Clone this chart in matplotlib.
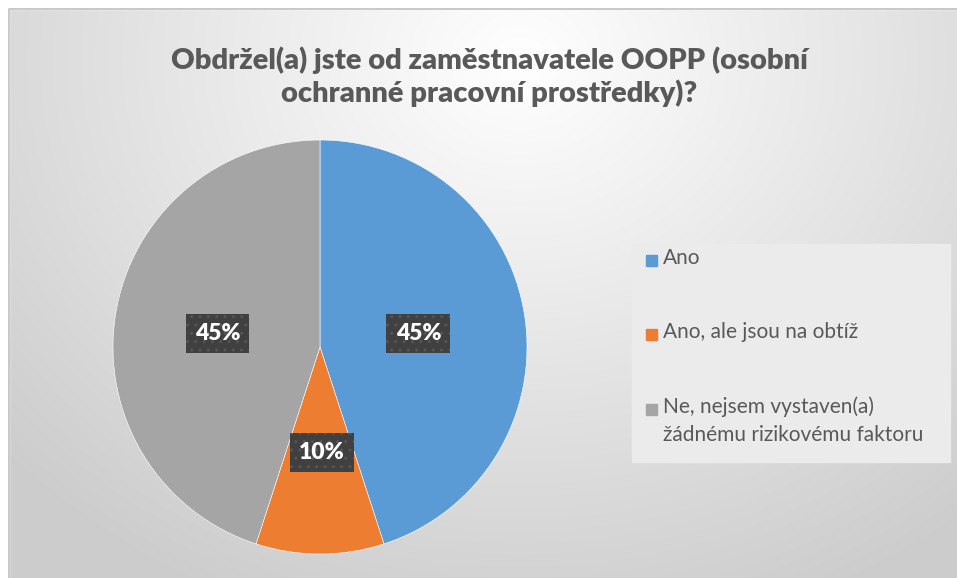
import numpy as np
import matplotlib.pyplot as plt
from matplotlib.patches import Rectangle

categories = ["Ano", "Ano, ale jsou na obtíž", "Ne, nejsem vystaven(a)\nžádnému rizikovému faktoru"]
values = [45, 10, 45]
colors = ["#5B9BD5", "#ED7D31", "#A5A5A5"]
title = "Obdržel(a) jste od zaměstnavatele OOPP (osobní\nochranné pracovní prostředky)?"

W, H = 957, 578
fig = plt.figure(figsize=(W / 100, H / 100), dpi=100)

# background gradient
bg = fig.add_axes([0, 0, 1, 1])
bg.set_axis_off()
yy, xx = np.mgrid[0:H, 0:W]
d = np.sqrt(((xx - 520) / 700.0) ** 2 + ((yy - 60) / 600.0) ** 2)
d = np.clip(d, 0, 1)
v = 1.0 - 0.2 * d
img = np.dstack([v, v, v])
bg.imshow(img, extent=[0, W, H, 0], aspect='auto', interpolation='bilinear')
bg.set_xlim(0, W)
bg.set_ylim(H, 0)
# outer white margin + border
bg.add_patch(Rectangle((0, 0), W, 9, color='white', zorder=2))
bg.add_patch(Rectangle((0, 0), 8.5, H, color='white', zorder=2))
bg.plot([8.5, 8.5, W + 5], [H + 5, 9, 9], color='#bfbfbf', lw=1.2, zorder=3)

# legend box
bg.add_patch(Rectangle((632, 244), 318, 218, color='#ebebeb', zorder=2))

plt.rcParams['font.family'] = ['Lato', 'DejaVu Sans']

bg.text(489, 77, title, ha='center', va='center', fontsize=21, fontweight='heavy',
        color='#595959', linespacing=1.25, zorder=4)

# pie
cx, cy, r = 320, 347, 207
ax = fig.add_axes([(cx - r) / W, (H - cy - r) / H, 2 * r / W, 2 * r / H])
wedges, _ = ax.pie(values, colors=colors, startangle=90, counterclock=False,
                   radius=1.0, wedgeprops=dict(linewidth=0.4, edgecolor='white'))
ax.set_xlim(-1, 1)
ax.set_ylim(-1, 1)
ax.set_aspect('equal')
ax.set_axis_off()

# labels
label_pos = [(0.475, 0.065), (0.01, -0.51), (-0.495, 0.065)]
for val, (lx, ly) in zip(values, label_pos):
    ax.text(lx, ly, f"{val}%", ha='center', va='center', fontsize=16.5, fontweight='heavy',
            color='white', zorder=5,
            bbox=dict(boxstyle='square,pad=0.4', facecolor='#404040', edgecolor='#555555',
                      hatch='..', linewidth=0))

# legend entries
leg_y = [260, 334, 409]
for cat, col, ly in zip(categories, colors, leg_y):
    bg.add_patch(Rectangle((646, ly - 5.5), 11, 11, color=col, zorder=4))
    bg.text(663, ly - 12.5, cat, ha='left', va='top', fontsize=15, color='#595959',
            linespacing=1.5, zorder=4)

fig.savefig('out.png', dpi=100)
